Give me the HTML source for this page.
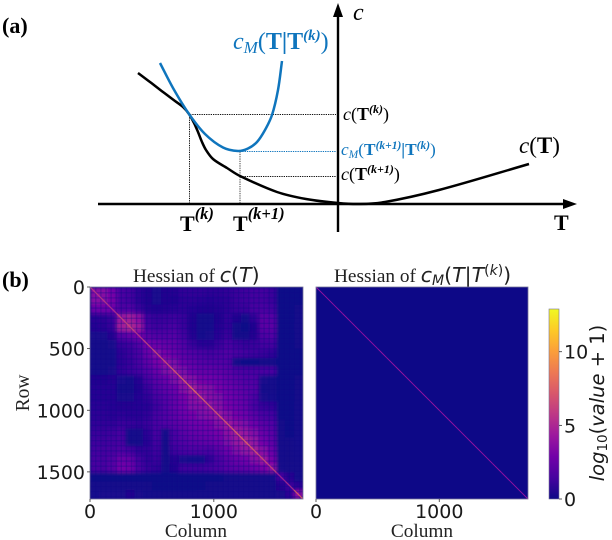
<!DOCTYPE html>
<html lang="en">
<head>
<meta charset="utf-8">
<title>Hessian chart</title>
<style>
html,body{margin:0;padding:0;background:#fff;}
svg{display:block;}
text{font-family:"Liberation Serif",serif;}
.tick{font-family:"DejaVu Sans",sans-serif;font-size:19px;fill:#1a1a1a;}
.mpl{font-family:"DejaVu Sans",sans-serif;}
.it{font-style:oblique;}
.ttl{font-size:19.3px;fill:#222;}
</style>
</head>
<body>
<svg id="chart" width="612" height="540" viewBox="0 0 612 540" xmlns="http://www.w3.org/2000/svg">
<defs>
<filter id="soft" x="-5%" y="-5%" width="110%" height="110%"><feGaussianBlur stdDeviation="1.8"/></filter>
<pattern id="mesh" width="5.1" height="5.1" patternUnits="userSpaceOnUse" x="90" y="287">
<rect x="0" y="0" width="5.1" height="1.4" fill="#0d0887" opacity="0.3"/>
<rect x="0" y="0" width="1.4" height="5.1" fill="#0d0887" opacity="0.3"/>
</pattern>
<clipPath id="clipL"><rect x="90" y="287" width="213" height="212"/></clipPath>
<clipPath id="clipR"><rect x="316" y="287" width="212" height="212"/></clipPath>
<linearGradient id="cbGrad" x1="0" y1="1" x2="0" y2="0"></linearGradient>
</defs>

<!-- panel a -->
<text x="2" y="33" font-size="22" font-weight="bold" fill="#000">(a)</text>
<g id="guides" fill="none" stroke-width="1" stroke-dasharray="1.3 1">
<line x1="190" y1="114.5" x2="336" y2="114.5" stroke="#111"/>
<line x1="189.5" y1="115" x2="189.5" y2="203" stroke="#111"/>
<line x1="240" y1="151.5" x2="240" y2="203" stroke="#444"/>
<line x1="240" y1="151.5" x2="336" y2="151.5" stroke="#0f75bd"/>
<line x1="240" y1="176.5" x2="336" y2="176.5" stroke="#111"/>
</g>
<line x1="98" y1="204" x2="564" y2="204" stroke="#000" stroke-width="2.4"/>
<polygon points="577,204 563,199 563,209" fill="#000"/>
<line x1="338" y1="232" x2="338" y2="14" stroke="#000" stroke-width="2.4"/>
<polygon points="338,3 333,17 343,17" fill="#000"/>
<path id="costCurve" fill="none" stroke="#000" stroke-width="2.5"/>
<path id="modelCurve" fill="none" stroke="#0f75bd" stroke-width="2.5"/>

<text x="233" y="49" font-size="24" fill="#0f75bd"><tspan font-style="italic">c</tspan><tspan font-style="italic" font-size="17" dy="4">M</tspan><tspan dy="-4">(</tspan><tspan font-weight="bold">T|T</tspan><tspan font-weight="bold" font-style="italic" font-size="15" dy="-9">(k)</tspan><tspan dy="9">)</tspan></text>
<text x="353" y="20" font-size="24" font-style="italic" fill="#000">c</text>
<text x="554" y="230" font-size="22" font-weight="bold" fill="#000">T</text>
<text x="180" y="231" font-size="22" font-weight="bold" fill="#000">T<tspan font-style="italic" font-size="16.5" dy="-12">(k)</tspan></text>
<text x="233" y="231" font-size="22" font-weight="bold" fill="#000">T<tspan font-style="italic" font-size="16.5" dy="-12">(k+1)</tspan></text>
<text x="343" y="120" font-size="18" fill="#000"><tspan font-style="italic">c</tspan>(<tspan font-weight="bold">T</tspan><tspan font-weight="bold" font-style="italic" font-size="12" dy="-7">(k)</tspan><tspan dy="7">)</tspan></text>
<text x="341" y="155" font-size="17.3" fill="#0f75bd"><tspan font-style="italic">c</tspan><tspan font-style="italic" font-size="11.5" dy="3">M</tspan><tspan dy="-3">(</tspan><tspan font-weight="bold">T</tspan><tspan font-weight="bold" font-style="italic" font-size="11.5" dy="-6">(k+1)</tspan><tspan font-weight="bold" dy="6">|T</tspan><tspan font-weight="bold" font-style="italic" font-size="11.5" dy="-6">(k)</tspan><tspan dy="6">)</tspan></text>
<text x="341" y="180" font-size="18" fill="#000"><tspan font-style="italic">c</tspan>(<tspan font-weight="bold">T</tspan><tspan font-weight="bold" font-style="italic" font-size="12" dy="-7">(k+1)</tspan><tspan dy="7">)</tspan></text>
<text x="519" y="153" font-size="23" fill="#000"><tspan font-style="italic">c</tspan>(<tspan font-weight="bold">T</tspan>)</text>

<!-- panel b -->
<text x="2" y="287" font-size="22" font-weight="bold" fill="#000">(b)</text>
<text class="ttl" x="133" y="282">Hessian of <tspan class="mpl it" font-size="20.5">c</tspan><tspan class="mpl" font-size="20.5">(</tspan><tspan class="mpl it" font-size="20.5">T</tspan><tspan class="mpl" font-size="20.5">)</tspan></text>
<text class="ttl" x="334" y="282">Hessian of <tspan class="mpl it" font-size="20.5">c</tspan><tspan class="mpl it" font-size="14" dy="3">M</tspan><tspan class="mpl" font-size="20.5" dy="-3">(</tspan><tspan class="mpl it" font-size="20.5">T</tspan><tspan class="mpl" font-size="20.5">|</tspan><tspan class="mpl it" font-size="20.5">T</tspan><tspan class="mpl" font-size="14" dy="-7">(</tspan><tspan class="mpl it" font-size="14">k</tspan><tspan class="mpl" font-size="14">)</tspan><tspan class="mpl" font-size="20.5" dy="7">)</tspan></text>

<g clip-path="url(#clipL)">
<rect x="90" y="287" width="213" height="212" fill="#100887"/>
<g id="leftCells" filter="url(#soft)"></g>
<rect x="90" y="287" width="213" height="212" fill="url(#mesh)"/>
<g id="leftDiag" opacity="0.8"></g>
</g>
<rect x="90" y="287" width="213" height="212" fill="none" stroke="#77759a" stroke-width="0.8"/>

<g clip-path="url(#clipR)">
<rect id="rightBg" x="316" y="287" width="212" height="212"/>
<g id="rightDiag"></g>
</g>
<rect x="316" y="287" width="212" height="212" fill="none" stroke="#77759a" stroke-width="0.8"/>

<rect id="cbar" x="549" y="309" width="10" height="190" fill="url(#cbGrad)" stroke="#77759a" stroke-width="0.6"/>
<g id="axes"></g>

<text x="0" y="0" font-size="19.5" fill="#222" text-anchor="middle" transform="translate(29 393) rotate(-90)">Row</text>
<text x="196" y="537" font-size="19.3" fill="#222" text-anchor="middle">Column</text>
<text x="422" y="537" font-size="19.3" fill="#222" text-anchor="middle">Column</text>
<text class="mpl it" x="0" y="0" font-size="19.5" fill="#1a1a1a" text-anchor="middle" transform="translate(604 403) rotate(-90)">log<tspan font-size="13.5" dy="3" style="font-style:normal">10</tspan><tspan dy="-3" style="font-style:normal">(</tspan>value<tspan style="font-style:normal"> + 1)</tspan></text>
</svg>

<script>
// Panel (a) curves, in schematic data units (T, c)
const costT  = [-2.00,-1.88,-1.75,-1.63,-1.55,-1.49,-1.44,-1.40,-1.36,-1.32,-1.25,-1.11,-0.98,-0.61,-0.32,0.00,0.22,0.47,1.01,1.91];
const costC  = [1.31,1.22,1.12,1.03,0.97,0.90,0.81,0.72,0.62,0.54,0.45,0.36,0.28,0.12,0.05,0.01,0.00,0.02,0.14,0.40];
const modelT = [-1.78,-1.65,-1.49,-1.33,-1.15,-1.00,-0.90,-0.81,-0.73,-0.66,-0.60,-0.56];
const modelC = [1.41,1.16,0.90,0.70,0.565,0.53,0.555,0.62,0.74,0.89,1.14,1.43];

// Panel (b) tick labels
const rowTicks = [0,500,1000,1500];
const columnTicks = [0,1000];
const colorbarTicks = [0,5,10];
const colorbarMax = 12.9;
const matrixSize = 1720;

// plasma colour stops, evenly spaced over the colour range
const plasma = ['#0d0887','#46039f','#7201a8','#9c179e','#bd3786','#d8576b','#ed7953','#fb9f3a','#fdca26','#f0f921'];

// Coarse 24 x 24 brightness bins
const hessianValues = [
[3.9,3.9,3.5,2.6,2.4,1.9,1.4,1.3,1.4,1.6,2.0,2.0,2.0,1.9,1.9,2.0,2.2,2.3,2.4,2.4,2.2,.6,.5,.6],
[3.9,3.8,3.6,2.6,2.4,1.9,1.4,1.3,1.4,1.5,1.9,1.9,1.8,1.7,1.8,1.9,2.2,2.3,2.4,2.4,2.2,.6,.5,.6],
[3.3,3.4,3.4,2.7,2.8,2.2,1.6,1.5,1.6,1.8,1.9,1.7,1.5,1.4,1.6,1.9,2.1,2.2,2.5,2.6,2.4,.6,.5,.7],
[1.8,1.9,2.2,4.2,4.4,4.0,2.3,2.1,2.2,2.3,2.1,1.4,1.0,1.0,1.4,2.0,1.5,1.0,2.0,3.0,2.9,.6,.5,.8],
[1.7,1.8,2.1,4.4,4.6,4.3,2.5,2.3,2.4,2.6,2.2,1.4,1.0,1.1,1.6,2.0,.8,.6,1.5,3.0,3.0,.6,.5,.9],
[1.2,1.3,1.6,2.9,3.2,3.6,3.0,2.8,2.8,2.9,2.4,1.6,1.1,1.3,1.8,2.2,.9,.8,1.6,2.7,2.8,.6,.5,.8],
[.9,.9,1.2,2.1,2.3,2.8,3.5,3.4,3.2,3.1,2.8,2.2,1.8,1.8,2.2,2.6,2.3,2.1,2.2,2.4,2.4,.6,.5,.7],
[.8,.8,1.1,1.9,2.2,2.6,3.3,3.8,3.6,3.3,3.0,2.8,2.6,2.4,2.6,2.8,2.6,2.4,2.3,2.2,2.0,.6,.5,.6],
[.8,.8,1.0,1.9,2.1,2.5,3.1,3.6,4.0,3.7,3.3,3.1,2.9,2.8,2.8,2.8,.8,.6,.6,.7,.7,.5,.5,.6],
[1.0,1.0,1.2,2.0,2.2,2.4,2.9,3.3,3.7,4.1,3.7,3.4,3.2,3.2,3.1,3.0,2.7,2.6,2.6,2.6,2.5,.6,.5,.6],
[1.5,1.5,1.6,1.3,1.0,1.6,2.5,3.0,3.3,3.7,4.2,3.9,3.6,3.5,3.4,3.2,3.0,2.8,2.8,1.2,1.0,.6,.5,.7],
[1.7,1.7,1.7,.9,.8,1.5,2.2,2.8,3.1,3.4,3.9,4.4,4.0,3.8,3.6,3.4,3.2,3.0,2.9,1.0,.8,.6,.5,.7],
[1.7,1.7,1.7,1.2,1.2,1.7,2.0,2.5,2.9,3.2,3.6,4.0,4.2,3.9,3.7,3.5,3.3,3.1,2.7,1.2,1.1,.6,.5,.7],
[1.8,1.8,1.7,1.6,1.6,1.7,1.8,2.3,2.8,3.2,3.5,3.8,3.9,4.1,3.9,3.6,3.4,3.2,2.6,2.1,2.0,.6,.6,.8],
[1.9,1.9,1.8,1.9,1.8,1.8,2.0,2.5,2.8,3.1,3.4,3.6,3.7,3.9,4.2,3.9,3.6,3.4,3.0,2.6,2.4,.6,.6,.8],
[2.0,2.0,2.0,2.2,2.1,2.0,2.2,2.6,2.8,3.0,3.2,3.4,3.5,3.6,3.9,4.3,4.0,3.7,3.4,3.0,2.8,.7,.6,.9],
[2.2,2.2,2.3,2.5,1.0,.9,1.9,2.5,.9,2.6,3.0,3.2,3.3,3.4,3.6,4.0,4.4,4.2,3.8,3.3,3.0,.7,.6,1.0],
[2.3,2.3,2.4,2.5,.7,.8,1.8,2.4,.7,2.5,2.8,3.0,3.1,3.2,3.4,3.7,4.2,4.5,4.1,3.5,3.1,.7,.7,1.1],
[2.4,2.4,2.5,2.7,2.4,2.0,2.0,2.3,.7,2.3,2.6,2.7,2.7,2.6,3.0,3.4,3.8,4.1,4.4,3.9,3.3,.8,.7,1.0],
[2.5,2.5,2.8,3.3,3.2,2.4,2.0,2.2,.7,1.6,1.3,1.1,1.1,2.0,2.6,3.0,3.3,3.5,3.9,4.3,3.6,.9,.7,.9],
[2.5,2.5,2.9,3.5,3.4,2.6,2.1,2.0,.8,1.5,2.3,2.3,2.3,2.4,2.6,2.9,3.0,3.1,3.3,3.6,4.0,1.0,.8,.8],
[.6,.6,.6,.6,.6,.6,.6,.6,.5,.5,.6,.6,.6,.6,.6,.7,.7,.7,.8,.9,1.0,2.4,1.6,1.0],
[.9,.9,.8,.8,.9,.8,.7,.6,.6,.6,.6,.6,.6,.7,.7,.8,.8,.9,.9,.9,.9,1.6,2.2,1.8],
[1.1,1.2,1.3,1.3,1.4,1.2,1.0,.8,.7,.7,.8,.8,.9,.9,1.0,1.0,1.1,1.1,1.0,1.0,1.0,1.2,1.9,4.0]
];
const hessianDiagonal = [6,6,5.5,6.5,6.5,6,6.5,7,7,7.5,8,8.5,8,7.5,7.5,7.5,8,8,7.5,7,6.5,5,5.5,8];
const modelDiagonal = [4,4,3.8,4,4,3.8,3.8,4,4,4.2,4,4,4,4.2,4,4,4,4,4,4,4,3.8,4,4];
const modelBackground = 0;

const NS = 'http://www.w3.org/2000/svg';
const $ = id => document.getElementById(id);

// Axis functions
const sketchX = t => 338 + t * 100;
const sketchY = c => 204 - c * 100;
const leftColX = v => 90 + v / matrixSize * 213;
const rightColX = v => 316 + v / matrixSize * 212;
const rowY = v => 287 + v / matrixSize * 212;
const colorbarY = v => 499 - v / colorbarMax * 190;

function hexToRgb(h){ return [1,3,5].map(i => parseInt(h.substr(i,2),16)); }
function colorFor(v){
  const f = Math.max(0, Math.min(1, v / colorbarMax)) * (plasma.length - 1);
  const i = Math.min(plasma.length - 2, Math.floor(f));
  const a = hexToRgb(plasma[i]), b = hexToRgb(plasma[i+1]);
  const m = a.map((x,k) => Math.round(x + (b[k]-x) * (f-i)));
  return 'rgb(' + m.join(',') + ')';
}
// Brightness bins map onto the colour scale with extra contrast
function cellColor(v){ return colorFor(v * v / 4.2); }

// Smooth curve with handles proportional to each segment's length
function smoothPath(xs, ys){
  const p = xs.map((t,i) => [sketchX(t), sketchY(ys[i])]);
  const tangent = i => {
    const a = p[Math.max(0,i-1)], b = p[Math.min(p.length-1,i+1)];
    const dx = b[0]-a[0], dy = b[1]-a[1], n = Math.hypot(dx,dy);
    return [dx/n, dy/n];
  };
  let d = 'M' + p[0][0] + ' ' + p[0][1];
  for (let i = 0; i < p.length - 1; i++){
    const b = p[i], c = p[i+1], len = Math.hypot(c[0]-b[0], c[1]-b[1]) / 3;
    const t0 = tangent(i), t1 = tangent(i+1);
    d += ' C' + (b[0]+t0[0]*len) + ' ' + (b[1]+t0[1]*len) + ' ' +
         (c[0]-t1[0]*len) + ' ' + (c[1]-t1[1]*len) + ' ' + c[0] + ' ' + c[1];
  }
  return d;
}
$('costCurve').setAttribute('d', smoothPath(costT, costC));
$('modelCurve').setAttribute('d', smoothPath(modelT, modelC));

// Left heatmap cells
const bins = hessianValues.length;
const binSize = matrixSize / bins;
hessianValues.forEach((row, r) => {
  row.forEach((v, c) => {
    const cell = document.createElementNS(NS, 'rect');
    
    
    cell.setAttribute('x', leftColX(c * binSize));
    cell.setAttribute('y', rowY(r * binSize));
    cell.setAttribute('width', leftColX(binSize) - leftColX(0) + 0.5);
    cell.setAttribute('height', rowY(binSize) - rowY(0) + 0.5);
    cell.setAttribute('fill', cellColor(v));
    $('leftCells').appendChild(cell);
  });
});

// Diagonals
function drawDiagonal(parent, values, xScale, width){
  const size = matrixSize / values.length;
  values.forEach((v, i) => {
    const seg = document.createElementNS(NS, 'line');
    
    
    seg.setAttribute('x1', xScale(i * size));
    seg.setAttribute('y1', rowY(i * size));
    seg.setAttribute('x2', xScale((i + 1) * size));
    seg.setAttribute('y2', rowY((i + 1) * size));
    seg.setAttribute('stroke', colorFor(v));
    seg.setAttribute('stroke-width', width);
    parent.appendChild(seg);
  });
}
drawDiagonal($('leftDiag'), hessianDiagonal, leftColX, 1.3);
drawDiagonal($('rightDiag'), modelDiagonal, rightColX, 1);
$('rightBg').setAttribute('fill', colorFor(modelBackground));

// Colorbar gradient
plasma.forEach((col, i) => {
  const stop = document.createElementNS(NS, 'stop');
  stop.setAttribute('offset', i / (plasma.length - 1));
  stop.setAttribute('stop-color', col);
  $('cbGrad').appendChild(stop);
});

// Ticks
function addTick(x1, y1, x2, y2){
  const t = document.createElementNS(NS, 'line');
  
  
  t.setAttribute('x1', x1); t.setAttribute('y1', y1);
  t.setAttribute('x2', x2); t.setAttribute('y2', y2);
  t.setAttribute('stroke', '#333');
  t.setAttribute('stroke-width', '0.8');
  $('axes').appendChild(t);
}
function addLabel(x, y, anchor, str){
  const t = document.createElementNS(NS, 'text');
  
  
  t.setAttribute('class', 'tick');
  t.setAttribute('x', x); t.setAttribute('y', y);
  t.setAttribute('text-anchor', anchor);
  t.textContent = str;
  $('axes').appendChild(t);
}
rowTicks.forEach(v => {
  addTick(87, rowY(v), 90, rowY(v));
  addLabel(85, rowY(v) + 7, 'end', v);
});
columnTicks.forEach(v => {
  addTick(leftColX(v), 499, leftColX(v), 502);
  addLabel(leftColX(v), 518, 'middle', v);
  addTick(rightColX(v), 499, rightColX(v), 502);
  addLabel(rightColX(v), 518, 'middle', v);
});
colorbarTicks.forEach(v => {
  addTick(559, colorbarY(v), 562, colorbarY(v));
  addLabel(564, colorbarY(v) + 7, 'start', v);
});
</script>
</body>
</html>
